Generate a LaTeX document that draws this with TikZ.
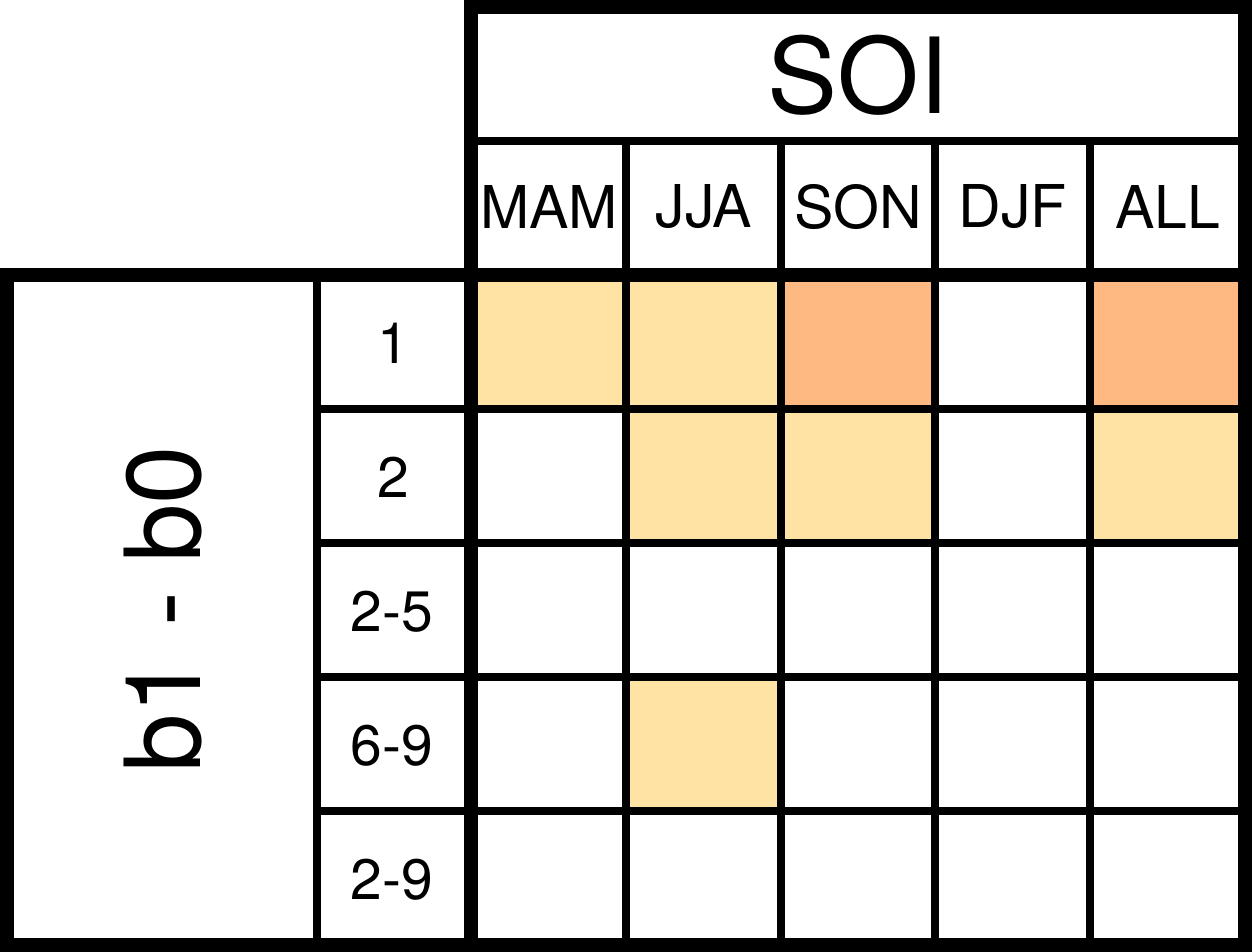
\documentclass[tikz,border=0pt]{standalone}
\usepackage{fontspec}
\setmainfont{TeX Gyre Heros}
\definecolor{lowsig}{HTML}{FEE3A5}
\definecolor{highsig}{HTML}{FEB882}
\begin{document}
\begin{tikzpicture}[x=1pt,y=-1pt,
  thickline/.style={line width=14pt, line join=miter, line cap=rect},
  thinline/.style={line width=8pt},
  big/.style={font=\fontsize{105}{110}\selectfont, inner sep=0pt},
  lab/.style={font=\fontsize{59}{64}\selectfont, inner sep=0pt},
  num/.style={font=\fontsize{57}{62}\selectfont, inner sep=0pt}]
\useasboundingbox (0,0) rectangle (1252,952);
\fill[white] (0,0) rectangle (1252,952);
% column borders and row borders
\def\cA{471}\def\cB{626}\def\cC{780.7}\def\cD{935.3}\def\cE{1090}\def\cF{1245}
\def\rA{275}\def\rB{409}\def\rC{543}\def\rD{677}\def\rE{811}\def\rF{945}
% coloured cells
\fill[lowsig] (\cA,\rA) rectangle (\cB,\rB);
\fill[lowsig] (\cB,\rA) rectangle (\cC,\rB);
\fill[highsig] (\cC,\rA) rectangle (\cD,\rB);
\fill[highsig] (\cE,\rA) rectangle (\cF,\rB);
\fill[lowsig] (\cB,\rB) rectangle (\cC,\rC);
\fill[lowsig] (\cC,\rB) rectangle (\cD,\rC);
\fill[lowsig] (\cE,\rB) rectangle (\cF,\rC);
\fill[lowsig] (\cB,\rD) rectangle (\cC,\rE);
% thin lines
\draw[thinline] (\cA,141) -- (\cF,141);
\foreach \x in {\cB,\cC,\cD,\cE} \draw[thinline] (\x,141) -- (\x,\rF);
\foreach \y in {\rB,\rC,\rD,\rE} \draw[thinline] (316.5,\y) -- (\cF,\y);
\draw[thinline] (316.5,\rA) -- (316.5,\rF);
% thick lines
\draw[thickline] (\cA,7) rectangle (\cF,\rF);
\draw[thickline] (7,\rA) rectangle (\cF,\rF);
% texts
\node[big] (soi) at (858,75.5) {SOI};
\node[big, rotate=90] (b) at (163,609.5) {b1 - b0};
\node[lab] (mam) at (549,207) {MAM};
\node[lab] (jja) at (704,207) {JJA};
\node[lab] (son) at (858,207) {SON};
\node[lab] (djf) at (1012.6,207) {DJF};
\node[lab] (all) at (1167.5,207) {ALL};
\node[num] (r1) at (393,343.5) {1};
\node[num] (r2) at (393,477.5) {2};
\node[num] (r3) at (392,611.5) {2-5};
\node[num] (r4) at (392,745.5) {6-9};
\node[num] (r5) at (392,879.5) {2-9};
\end{tikzpicture}
\end{document}
